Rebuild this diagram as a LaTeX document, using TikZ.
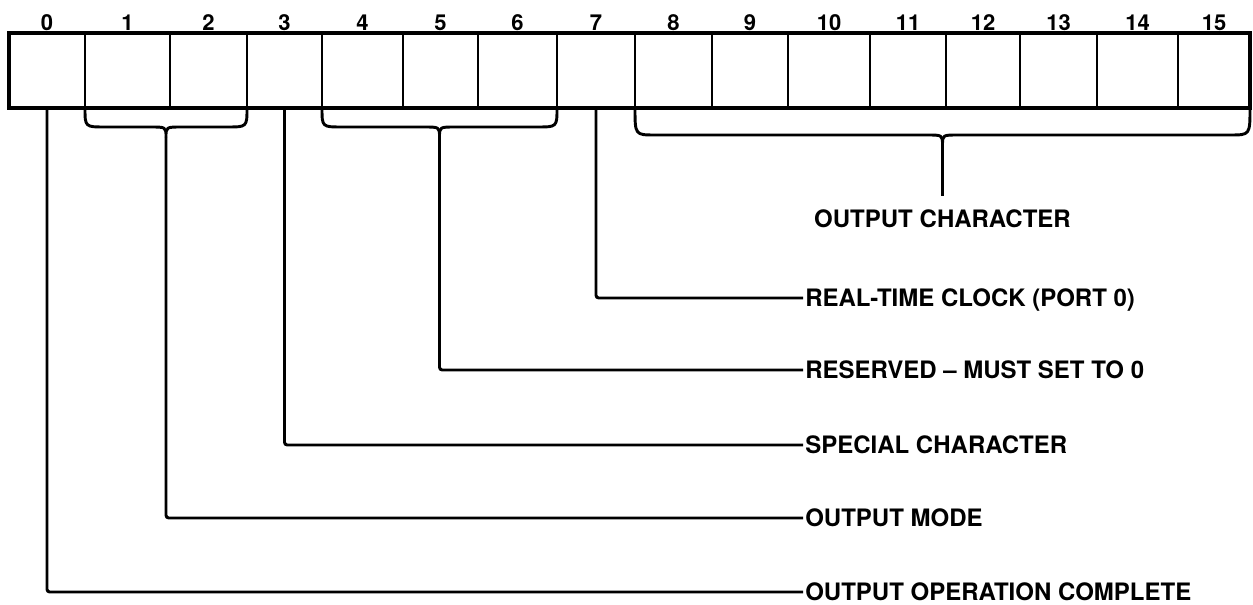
\documentclass[tikz,border=0pt]{standalone}
\usepackage{fontspec}
\setmainfont{TeX Gyre Heros}
\usetikzlibrary{positioning,calc}
\newcommand{\RegBitFont}{\fontsize{16.5}{18}\selectfont\bfseries}
\newcommand{\RegLblFont}{\fontsize{18}{20}\selectfont\bfseries}
\tikzset{
  every node/.style={align=center},
  line cap=round,
  %% register cells
  cellBox/.style={
    draw=black,
    line width=2.2pt,
    inner sep=0pt,
    outer sep=0pt,
    minimum height=56.25pt,
  },
  regFrame/.style={draw=black, line width=3pt},
  bitNum/.style={font=\RegBitFont, inner sep=0pt, text depth=0pt},
  %% field labels
  fieldLbl/.style={
    font=\RegLblFont,
    inner sep=1.5pt,
    text height=13pt,
    text depth=0pt,
  },
  %% connectors
  conn/.style={line width=2.2pt, black, rounded corners=2pt},
  brc/.style={line width=2.2pt, black, line join=round},
}
%% brace under a group of bits: left, right, depth of bar, tip name
\newcommand{\RegBrace}[4]{%
  \path (#1) -- (#2) coordinate[pos=0.5] (#4c);
  \coordinate (#4) at ($(#4c)+(0,#3+10)$);
  \draw[brc] (#1) .. controls ($(#1)+(0,#3)$) .. ($(#1)+(20,#3)$)
    -- ($(#4c)+(-16,#3)$) .. controls ($(#4c)+(0,#3)$) .. (#4)
    .. controls ($(#4c)+(0,#3)$) .. ($(#4c)+(16,#3)$)
    -- ($(#2)+(-20,#3)$) .. controls ($(#2)+(0,#3)$) .. (#2);
}

\begin{document}
\begin{tikzpicture}[x=0.75pt, y=-0.75pt]

\useasboundingbox (0,0) rectangle (1253,605);

%% ── Register cells and bit numbers ─────────────────────────────────────────
\foreach \i/\l/\r in {0/9/85, 1/85/170, 2/170/247, 3/247/322, 4/322/403,
  5/403/478, 6/478/557, 7/557/635, 8/635/712, 9/712/788, 10/788/870,
  11/870/946, 12/946/1020, 13/1020/1097, 14/1097/1178, 15/1178/1250}{
  \node[cellBox, minimum width={(\r-\l)*0.75pt}] (b\i) at ({(\l+\r)/2},70.5) {};
  \node[bitNum, above=1.5pt of b\i] (n\i) {\i};
}
\draw[regFrame] (b0.north west) rectangle (b15.south east);

%% ── Braces ─────────────────────────────────────────────────────────────────
\RegBrace{b1.south west}{b2.south east}{19}{tMode}
\RegBrace{b4.south west}{b6.south east}{19}{tRsv}
\RegBrace{b8.south west}{b15.south east}{27}{tChr}

%% ── Field labels ───────────────────────────────────────────────────────────
\node[fieldLbl, anchor=north] (lChr) at ($(tChr)+(0,63)$) {OUTPUT CHARACTER};
\node[fieldLbl, anchor=west] (lRtc)  at (803,298) {REAL-TIME CLOCK (PORT 0)};
\node[fieldLbl, anchor=west] (lRsv)  at (803,370) {RESERVED \textendash{} MUST SET TO 0};
\node[fieldLbl, anchor=west] (lSpc)  at (803,445) {SPECIAL CHARACTER};
\node[fieldLbl, anchor=west] (lMode) at (803,518) {OUTPUT MODE};
\node[fieldLbl, anchor=west] (lDone) at (803,592) {OUTPUT OPERATION COMPLETE};

%% ── Connectors ─────────────────────────────────────────────────────────────
\draw[conn, shorten >=9pt] (tChr) -- (lChr);
\draw[conn] (b7.south) |- (lRtc.west);
\draw[conn] (tRsv)     |- (lRsv.west);
\draw[conn] (b3.south) |- (lSpc.west);
\draw[conn] (tMode)    |- (lMode.west);
\draw[conn] (b0.south) |- (lDone.west);

\end{tikzpicture}
\end{document}
